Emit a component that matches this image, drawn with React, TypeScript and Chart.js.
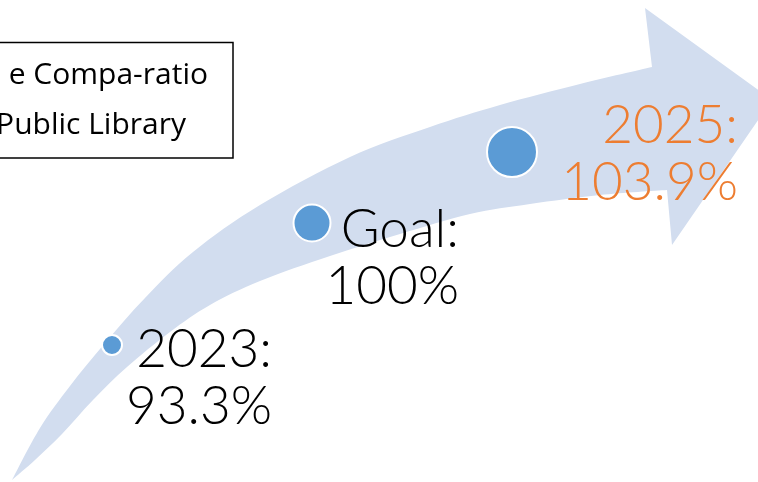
import { useEffect, useRef } from "react";
import { Chart, registerables } from "chart.js";

Chart.register(...registerables);

// ---- data ----
const categories = ["2023", "Goal", "2025"];
const compaRatio = [93.3, 100, 103.9];
const valueLabels = ["93.3%", "100%", "103.9%"];
const bubbleRadius = [10, 18.5, 25];
const titleLines = ["e Compa-ratio", "Public Library"];

// ---- styles / layout ----
const labelColors = ["#000000", "#000000", "#ED7D31"];
const labelOffsets = [
  { dx: 160, dy: 22 },
  { dx: 147, dy: 24 },
  { dx: 226, dy: -9 },
];
const LABEL_LINE_HEIGHT = 57;
const ARROW_COLOR = "#D2DDEF";
const BUBBLE_COLOR = "#5B9BD5";

// decorative curved arrow outline (canvas pixels)
const arrowUpper: [number, number][] = [
  [12, 480], [40, 428], [70, 386], [105, 343], [145, 298], [193, 252],
  [260, 205], [350, 157], [430, 127], [500, 105], [580, 84], [652, 67],
];
const arrowHead: [number, number][] = [
  [645, 8], [772, 100], [672, 245], [667, 190],
];
const arrowLower: [number, number][] = [
  [667, 190], [600, 195], [530, 204], [470, 214], [400, 234], [330, 256],
  [260, 281], [210, 305], [170, 332], [127, 367], [93, 400],
  [62, 434], [35, 460], [12, 480],
];

function splineTo(ctx: CanvasRenderingContext2D, pts: [number, number][]) {
  for (let i = 0; i < pts.length - 1; i++) {
    const p0 = pts[i - 1] || pts[i];
    const p1 = pts[i];
    const p2 = pts[i + 1];
    const p3 = pts[i + 2] || pts[i + 1];
    const c1x = p1[0] + (p2[0] - p0[0]) / 6;
    const c1y = p1[1] + (p2[1] - p0[1]) / 6;
    const c2x = p2[0] - (p3[0] - p1[0]) / 6;
    const c2y = p2[1] - (p3[1] - p1[1]) / 6;
    ctx.bezierCurveTo(c1x, c1y, c2x, c2y, p2[0], p2[1]);
  }
}

const arrowPlugin = {
  id: "arrowBg",
  beforeDatasetsDraw(chart: any) {
    const ctx: CanvasRenderingContext2D = chart.ctx;
    ctx.save();
    ctx.beginPath();
    ctx.moveTo(arrowUpper[0][0], arrowUpper[0][1]);
    splineTo(ctx, arrowUpper);
    for (const p of arrowHead) ctx.lineTo(p[0], p[1]);
    splineTo(ctx, arrowLower);
    ctx.closePath();
    ctx.fillStyle = ARROW_COLOR;
    ctx.fill();
    ctx.restore();
  },
};

const labelPlugin = {
  id: "stageLabels",
  afterDatasetsDraw(chart: any) {
    const ctx: CanvasRenderingContext2D = chart.ctx;
    const meta = chart.getDatasetMeta(0);
    ctx.save();
    ctx.font = "300 53px Lato";
    ctx.textAlign = "right";
    ctx.textBaseline = "alphabetic";
    meta.data.forEach((el: any, i: number) => {
      const o = labelOffsets[i];
      ctx.fillStyle = labelColors[i];
      ctx.fillText(categories[i] + ":", el.x + o.dx, el.y + o.dy);
      ctx.fillText(valueLabels[i], el.x + o.dx, el.y + o.dy + LABEL_LINE_HEIGHT);
    });
    ctx.restore();
  },
};

const titlePlugin = {
  id: "titleBox",
  afterDraw(chart: any) {
    const ctx: CanvasRenderingContext2D = chart.ctx;
    ctx.save();
    ctx.strokeStyle = "#000000";
    ctx.lineWidth = 1.5;
    ctx.strokeRect(-10, 42.5, 243, 115.5);
    ctx.fillStyle = "#000000";
    ctx.font = "30px 'Open Sans'";
    ctx.textAlign = "right";
    ctx.fillText(titleLines[0], 208, 84);
    ctx.fillText(titleLines[1], 186, 134);
    ctx.restore();
  },
};

export default function App() {
  const ref = useRef<HTMLCanvasElement | null>(null);

  useEffect(() => {
    if (!ref.current) return;
    const chart = new Chart(ref.current, {
      type: "bubble",
      data: {
        labels: categories,
        datasets: [
          {
            label: "Compa-ratio",
            data: compaRatio.map((v, i) => ({ x: categories[i], y: v, r: bubbleRadius[i] })) as any,
            backgroundColor: BUBBLE_COLOR,
            borderColor: "#FFFFFF",
            borderWidth: 2,
            clip: false as any,
          },
        ],
      },
      options: {
        animation: false,
        responsive: false,
        maintainAspectRatio: false,
        devicePixelRatio: 1,
        layout: { autoPadding: false, padding: { left: 112, right: 246, top: 0, bottom: 0 } },
        scales: {
          x: { type: "category", labels: categories, display: false, offset: false },
          y: { type: "linear", min: 85.776, max: 112.248, display: false },
        },
        plugins: {
          legend: { display: false },
          tooltip: { enabled: false },
        },
      },
      plugins: [arrowPlugin, labelPlugin, titlePlugin],
    });
    return () => chart.destroy();
  }, []);

  return (
    <div style={{ position: "fixed", left: 0, top: 0, width: 758, height: 482, background: "#fff" }}>
      <canvas ref={ref} width={758} height={482} />
    </div>
  );
}
